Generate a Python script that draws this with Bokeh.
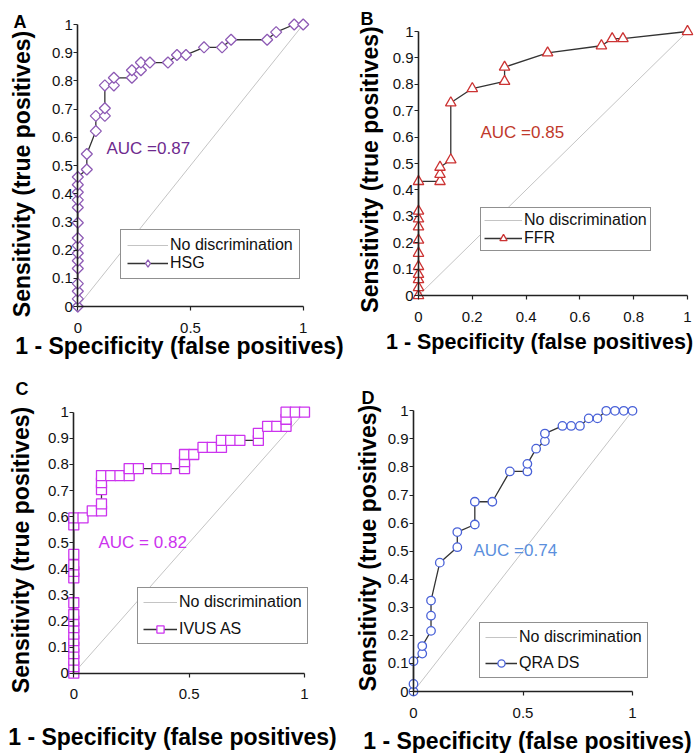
import numpy as np
from bokeh.plotting import figure
from bokeh.models import (Range1d, FixedTicker, CustomJSTickFormatter, Label,
                          Legend, LegendItem)
from bokeh.layouts import column, row
from bokeh.embed import file_html
from bokeh.resources import INLINE

# ---------------- data ----------------
diag_x = [0, 1]
diag_y = [0, 1]

hsg_fpr = [0, 0, 0, 0, 0, 0, 0, 0, 0, 0, 0, 0, 0, 0, 0,
           0.04, 0.04, 0.08, 0.08, 0.12, 0.12, 0.12, 0.16, 0.16, 0.24, 0.24, 0.28,
           0.28, 0.32, 0.40, 0.44, 0.48, 0.56, 0.64, 0.68, 0.84, 0.88, 0.96, 1.0]
hsg_tpr = [0, 0.027, 0.054, 0.081, 0.135, 0.162, 0.189, 0.216, 0.243, 0.297, 0.351,
           0.378, 0.405, 0.432, 0.459,
           0.486, 0.541, 0.622, 0.676, 0.676, 0.703, 0.784, 0.784, 0.811, 0.811, 0.838,
           0.838, 0.865, 0.865, 0.865, 0.892, 0.892, 0.919, 0.919, 0.946, 0.946, 0.973,
           1.0, 1.0]

ffr_fpr = [0, 0, 0, 0, 0, 0, 0, 0, 0, 0,
           0, 0.08, 0.08, 0.08, 0.12, 0.12, 0.20, 0.32, 0.32, 0.48, 0.68, 0.72, 0.76, 1.0]
ffr_tpr = [0, 0.03, 0.06, 0.08, 0.11, 0.16, 0.21, 0.26, 0.29, 0.32,
           0.432, 0.432, 0.459, 0.486, 0.514, 0.730, 0.784, 0.811, 0.865, 0.919, 0.946,
           0.973, 0.973, 1.0]

ivus_fpr = [0, 0, 0, 0, 0, 0, 0, 0, 0, 0, 0, 0, 0, 0, 0, 0, 0,
            0.04, 0.08, 0.12, 0.12, 0.12, 0.12, 0.12, 0.16, 0.20, 0.24, 0.24, 0.28, 0.36,
            0.40, 0.48, 0.48, 0.48, 0.52, 0.56, 0.60, 0.64, 0.64, 0.68, 0.72, 0.80, 0.80,
            0.84, 0.88, 0.92, 0.92, 0.92, 0.96, 1.0]
ivus_tpr = [0, 0.025, 0.05, 0.075, 0.10, 0.125, 0.15, 0.175, 0.20, 0.225, 0.27, 0.365,
            0.39, 0.415, 0.455, 0.568, 0.595,
            0.595, 0.622, 0.622, 0.649, 0.703, 0.730, 0.757, 0.757, 0.757, 0.757, 0.784,
            0.784, 0.784, 0.784, 0.784, 0.811, 0.838, 0.838, 0.865, 0.865, 0.865, 0.892,
            0.892, 0.892, 0.892, 0.919, 0.946, 0.946, 0.946, 0.973, 1.0, 1.0, 1.0]

qra_fpr = [0, 0, 0, 0.04, 0.04, 0.08, 0.08, 0.08, 0.12, 0.20, 0.20, 0.28, 0.28, 0.36,
           0.44, 0.52, 0.52, 0.56, 0.60, 0.60, 0.68, 0.72, 0.76, 0.80, 0.84, 0.88, 0.92,
           0.96, 1.0]
qra_tpr = [0, 0.027, 0.108, 0.135, 0.162, 0.216, 0.270, 0.324, 0.459, 0.514, 0.568,
           0.595, 0.676, 0.676, 0.784, 0.784, 0.811, 0.865, 0.892, 0.919, 0.946, 0.946,
           0.946, 0.973, 0.973, 1.0, 1.0, 1.0, 1.0]

y_ticks = [0, 0.1, 0.2, 0.3, 0.4, 0.5, 0.6, 0.7, 0.8, 0.9, 1]
x_ticks_half = [0, 0.5, 1]
x_ticks_fifth = [0, 0.2, 0.4, 0.6, 0.8, 1]

# ---------------- layout ----------------
FONT = "Liberation Sans"


def make_panel(cfg):
    fx, fy = cfg["fig"]
    W, H = cfg["size"]
    X0, X1, Y0, Y1 = cfg["frame"]
    x0 = X0 - fx; x1 = X1 - fx; y0 = Y0 - fy; y1 = Y1 - fy
    sx = x1 - x0; sy = y0 - y1
    xr = Range1d(-x0 / sx, (W - x0) / sx)
    yr = Range1d((y0 - H) / sy, y0 / sy)
    p = figure(width=W, height=H, x_range=xr, y_range=yr, output_backend="svg",
               toolbar_location=None, min_border_left=0, min_border_right=0,
               min_border_top=0, min_border_bottom=0)
    p.xgrid.visible = False
    p.ygrid.visible = False
    p.outline_line_color = None
    p.background_fill_color = "white"
    p.border_fill_color = "white"

    def dx(px):
        return (px - X0) / (X1 - X0)

    def dy(py):
        return (Y0 - py) / (Y0 - Y1)

    fmt = CustomJSTickFormatter(code="return String(Math.round(tick*100)/100);")
    for ax, ticks in ((p.xaxis[0], cfg["xticks"]), (p.yaxis[0], y_ticks)):
        ax.ticker = FixedTicker(ticks=ticks)
        ax.formatter = fmt
        ax.fixed_location = 0
        ax.bounds = (0, 1)
        ax.axis_line_color = "#222222"
        ax.axis_line_width = 1.6
        ax.major_tick_line_color = "#222222"
        ax.major_tick_line_width = 1.2
        ax.major_tick_in = 0
        ax.major_tick_out = 4
        ax.minor_tick_line_color = None
        ax.major_label_text_font = FONT
        ax.major_label_text_font_size = "15px"
        ax.major_label_text_color = "#111111"
    p.xaxis.major_label_standoff = 12
    p.yaxis.major_label_standoff = 1

    diag = p.line(diag_x, diag_y, line_color="#c4c4c4", line_width=1)
    roc_line = p.line(cfg["x"], cfg["y"], line_color="#333333", line_width=1.3)
    legend_marks = [roc_line]
    if cfg.get("legend_marker"):
        # marker used for the legend swatch (hidden under the first real marker)
        lm = p.scatter(cfg["x"][:1], cfg["y"][:1], marker=cfg["legend_marker"],
                       size=cfg["legend_msize"], fill_color="white",
                       line_color=cfg["color"], line_width=1.3)
    roc_pts = p.scatter(cfg["x"], cfg["y"], marker=cfg["marker"], size=cfg["msize"],
                        angle=cfg.get("angle", 0), fill_color="white",
                        line_color=cfg["color"], line_width=1.3)
    legend_marks.append(lm if cfg.get("legend_marker") else roc_pts)

    # legend (location is offset of its bottom-left from the frame's bottom-left)
    lg = cfg["legend"]
    legend = Legend(items=[LegendItem(label="No discrimination", renderers=[diag]),
                           LegendItem(label=cfg["name"], renderers=legend_marks)],
                    location=(lg["left"] - fx, (fy + H) - lg["bottom"]),
                    margin=0, padding=lg["padding"], spacing=lg["spacing"],
                    glyph_width=lg["gw"], glyph_height=18, label_height=18,
                    label_standoff=2, label_text_font=FONT, label_text_font_size="16px",
                    label_text_color="#111111", border_line_color="#222222",
                    border_line_width=1.2, background_fill_color="white",
                    background_fill_alpha=1.0)
    p.add_layout(legend, "center")

    # texts (all anchored at their visual middle)
    lx, lmid = cfg["letter"]
    p.add_layout(Label(x=dx(lx), y=dy(lmid), text=cfg["letter_text"], text_font=FONT,
                       text_font_style="bold", text_font_size="18px",
                       text_align="left", text_baseline="middle", text_color="black"))
    ax_, ay_ = cfg["auc_pos"]
    p.add_layout(Label(x=dx(ax_), y=dy(ay_), text=cfg["auc"], text_font=FONT,
                       text_font_size="17px", text_align="left", text_baseline="middle",
                       text_color=cfg["auc_color"]))
    yx, yc = cfg["ylabel"]
    p.add_layout(Label(x=dx(yx), y=dy(yc), text="Sensitivity (true positives)",
                       text_font=FONT, text_font_style="bold", text_font_size="23px",
                       angle=np.pi / 2, text_align="center", text_baseline="middle",
                       text_color="black"))
    xc, xm = cfg["xlabel"]
    p.add_layout(Label(x=dx(xc), y=dy(xm), text="1 - Specificity (false positives)",
                       text_font=FONT, text_font_style="bold",
                       text_font_size=cfg.get("xlabel_size", "23px"),
                       text_align="center", text_baseline="middle", text_color="black"))
    return p


panels = [
    dict(fig=(0, 0), size=(347, 376), frame=(77.3, 302.7, 306, 24), xticks=x_ticks_half,
         x=hsg_fpr, y=hsg_tpr, marker="square", msize=7.8, angle=np.pi / 4,
         legend_marker="diamond", legend_msize=11,
         color="#8e5bb5", name="HSG", auc="AUC =0.87", auc_color="#6e2a8e",
         auc_pos=(106, 148), letter=(13, 21), letter_text="A",
         ylabel=(21, 173.5), xlabel=(179, 345),
         legend=dict(left=120, bottom=279, padding=6, spacing=0, gw=41)),
    dict(fig=(347, 0), size=(347, 376), frame=(418, 687, 295, 31), xticks=x_ticks_fifth,
         x=ffr_fpr, y=ffr_tpr, marker="triangle", msize=10.5,
         color="#cc3333", name="FFR", auc="AUC =0.85", auc_color="#c0392b",
         auc_pos=(480, 132), letter=(360, 18.5), letter_text="B",
         ylabel=(369, 169), xlabel=(539, 341), xlabel_size="21.5px",
         legend=dict(left=480, bottom=251, padding=3, spacing=0, gw=38)),
    dict(fig=(0, 376), size=(347, 377), frame=(73.3, 304, 672.7, 411.7), xticks=x_ticks_half,
         x=ivus_fpr, y=ivus_tpr, marker="square", msize=10,
         color="#cc33ee", name="IVUS AS", auc="AUC = 0.82", auc_color="#cc33ee",
         auc_pos=(98, 542), letter=(15, 388.5), letter_text="C",
         ylabel=(20.5, 549.5), xlabel=(172, 736),
         legend=dict(left=137, bottom=644, padding=5, spacing=9, gw=34)),
    dict(fig=(347, 376), size=(347, 377), frame=(413, 632, 691, 410.3), xticks=x_ticks_half,
         x=qra_fpr, y=qra_tpr, marker="circle", msize=8.5,
         color="#4a62d8", name="QRA DS", auc="AUC =0.74", auc_color="#5b8fdd",
         auc_pos=(473, 550), letter=(361, 397), letter_text="D",
         ylabel=(367.5, 547.5), xlabel=(527, 740),
         legend=dict(left=479, bottom=678, padding=5, spacing=8, gw=32)),
]

figs = [make_panel(c) for c in panels]
layout = column(row(figs[0], figs[1]), row(figs[2], figs[3]))

open("out.html", "w").write(file_html(layout, INLINE))
